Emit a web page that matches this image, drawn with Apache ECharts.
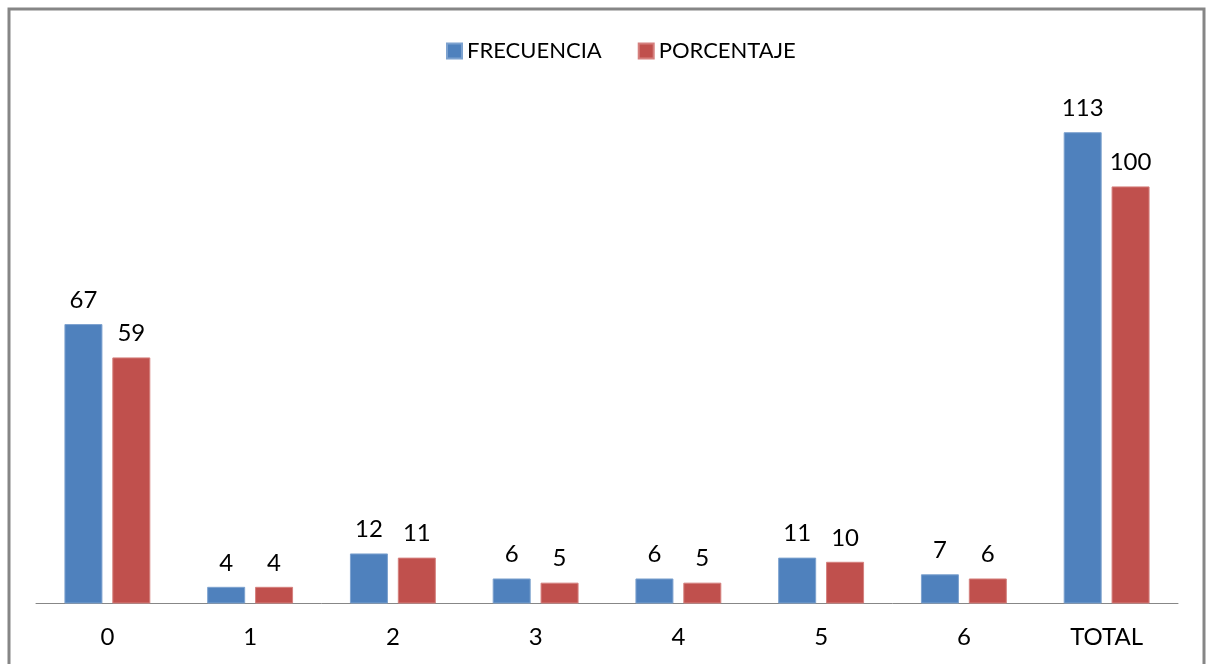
<!DOCTYPE html>
<html>
<head>
<meta charset="utf-8">
<script src="https://cdn.jsdelivr.net/npm/echarts@6/dist/echarts.min.js"></script>
<style>
html,body{margin:0;padding:0;background:#fff;}
#chart{width:1211px;height:664px;}
</style>
</head>
<body>
<div id="chart"></div>
<script>
const categories = ['0', '1', '2', '3', '4', '5', '6', 'TOTAL'];
const frecuencia = [67, 4, 12, 6, 6, 11, 7, 113];
const porcentaje = [59, 4, 11, 5, 5, 10, 6, 100];
const seriesNames = ['FRECUENCIA', 'PORCENTAJE'];

const FONT = 'Lato';
const chart = echarts.init(document.getElementById('chart'), null, {renderer: 'canvas'});
const labelStyle = {
  show: true,
  position: 'top',
  distance: 12,
  color: '#000',
  fontFamily: FONT,
  fontSize: 24
};
chart.setOption({
  animation: false,
  backgroundColor: '#fff',
  graphic: [{
    type: 'rect',
    shape: {x: 9, y: 9, width: 1195, height: 700},
    style: {fill: 'none', stroke: '#868686', lineWidth: 3},
    silent: true,
    z: -1
  }],
  legend: {
    data: seriesNames,
    left: 441,
    top: 35,
    icon: 'rect',
    itemWidth: 15,
    itemHeight: 15,
    itemGap: 36,
    textStyle: {color: '#000', fontFamily: FONT, fontSize: 22}
  },
  grid: {left: 36, right: 33, top: 103, bottom: 60.5, containLabel: false},
  xAxis: {
    type: 'category',
    data: categories,
    axisLine: {show: true, lineStyle: {color: '#878787', width: 1}},
    axisTick: {show: false},
    axisLabel: {color: '#000', fontFamily: FONT, fontSize: 24, margin: 22}
  },
  yAxis: {
    type: 'value',
    min: 0,
    max: 120,
    show: false,
    splitLine: {show: false}
  },
  series: [
    {
      name: seriesNames[0],
      type: 'bar',
      data: frecuencia,
      barWidth: 38,
      barGap: '26%',
      itemStyle: {color: '#4F81BD', borderColor: '#7DA2CF', borderWidth: 1},
      label: labelStyle
    },
    {
      name: seriesNames[1],
      type: 'bar',
      data: porcentaje,
      barWidth: 38,
      barGap: '26%',
      itemStyle: {color: '#C0504D', borderColor: '#D5807E', borderWidth: 1},
      label: labelStyle
    }
  ]
});
</script>
</body>
</html>
